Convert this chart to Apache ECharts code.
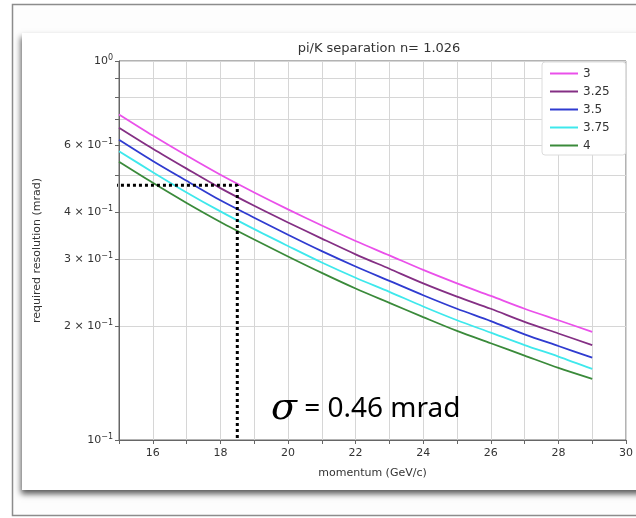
<!DOCTYPE html>
<html>
<head>
<meta charset="utf-8">
<script src="https://cdn.jsdelivr.net/npm/echarts@6/dist/echarts.min.js"></script>
<style>
  html, body { margin: 0; padding: 0; background: #fff; }
  #sepchart { width: 636px; height: 518px; }
</style>
</head>
<body>
<div id="sepchart"></div>
<script>
// momentum (GeV/c) and required resolution (mrad) per n-sigma curve
const momentum = [15, 16, 17, 18, 19, 20, 21, 22, 23, 24, 25, 26, 27, 28, 29];
const sigma300 = [0.723, 0.636, 0.563, 0.501, 0.450, 0.406, 0.368, 0.335, 0.307, 0.281, 0.259, 0.240, 0.222, 0.207, 0.193];
const sigma325 = [0.667, 0.587, 0.520, 0.462, 0.415, 0.375, 0.340, 0.309, 0.283, 0.259, 0.239, 0.222, 0.205, 0.191, 0.178];
const sigma350 = [0.620, 0.545, 0.483, 0.429, 0.386, 0.348, 0.315, 0.287, 0.263, 0.241, 0.222, 0.206, 0.190, 0.177, 0.165];
const sigma375 = [0.578, 0.509, 0.450, 0.401, 0.360, 0.325, 0.294, 0.268, 0.246, 0.225, 0.207, 0.192, 0.178, 0.166, 0.154];
const sigma400 = [0.542, 0.477, 0.422, 0.376, 0.338, 0.305, 0.276, 0.251, 0.230, 0.211, 0.194, 0.180, 0.167, 0.155, 0.145];
const curveNames = ["3", "3.25", "3.5", "3.75", "4"];
const curveColors = ["#ea50ea", "#842f84", "#2f3bd0", "#3ee8ec", "#3a8a3a"];

// axis ticks
const xLabelValues = [16, 18, 20, 22, 24, 26, 28, 30];
const yTickValues = [0.1, 0.2, 0.3, 0.4, 0.5, 0.6, 0.7, 0.8, 0.9, 1];
const yLabelValues = [0.1, 0.2, 0.3, 0.4, 0.6, 1];

// dotted read-off at p = 18.5 GeV/c
const markP = [14.88, 18.5, 18.5];
const markSigma = [0.47, 0.47, 0.1];

let chart = echarts.init(document.getElementById("sepchart"));

function toPairs(xs, ys) {
  return xs.map((x, i) => [x, ys[i]]);
}

function yLabel(v) {
  if (Math.abs(v - 1) < 1e-6) return "10{sup|0}";
  if (Math.abs(v - 0.1) < 1e-6) return "10{sup|\u22121}";
  return Math.round(v * 10) + " \u00d7 10{sup|\u22121}";
}

let curves = [sigma300, sigma325, sigma350, sigma375, sigma400];
let series = curves.map((vals, i) => ({
  name: curveNames[i],
  type: "line",
  data: toPairs(momentum, vals),
  smooth: 0.3,
  symbol: "none",
  lineStyle: { color: curveColors[i], width: 1.8 },
  itemStyle: { color: curveColors[i] },
  z: 3
}));

series.push({
  name: "marker",
  type: "line",
  data: toPairs(markP, markSigma),
  symbol: "none",
  clip: false,
  silent: true,
  lineStyle: { color: "#000", width: 3, type: [3, 3], cap: "butt" },
  z: 5
});

let option = {
  animation: false,
  backgroundColor: "#fff",
  textStyle: { fontFamily: "DejaVu Sans" },
  graphic: [
    {
      type: "rect",
      z: -10,
      shape: { x: 12.5, y: 4.5, width: 700, height: 511 },
      style: { fill: "#fdfdfd", stroke: "#8c8c8c", lineWidth: 1.5 }
    },
    {
      type: "rect",
      z: -9,
      shape: { x: 22, y: 33, width: 700, height: 457 },
      style: {
        fill: "#fff",
        shadowBlur: 6,
        shadowOffsetX: -1,
        shadowOffsetY: 4,
        shadowColor: "rgba(0,0,0,0.65)"
      }
    },
    {
      type: "text",
      left: 271,
      top: 390,
      z: 10,
      style: {
        text: "{s|\u03c3} = 0.46 mrad",
        fontFamily: "Noto Sans",
        fontSize: 28,
        fill: "#000",
        rich: {
          s: { fontFamily: "DejaVu Serif", fontStyle: "italic", fontSize: 38, fill: "#000" }
        }
      }
    }
  ],
  title: {
    text: "pi/K separation n= 1.026",
    left: 374,
    top: 37,
    textAlign: "center",
    textStyle: { fontSize: 13, fontWeight: "normal", color: "#333" }
  },
  legend: {
    data: curveNames,
    orient: "vertical",
    left: 542,
    top: 62,
    icon: "rect",
    itemWidth: 28,
    itemHeight: 2,
    itemGap: 5,
    padding: [5, 16, 3, 8],
    backgroundColor: "#fff",
    borderColor: "#dcdcdc",
    borderWidth: 1,
    borderRadius: 3,
    textStyle: { fontSize: 12, lineHeight: 13, color: "#333" }
  },
  grid: {
    left: 119,
    right: 7,
    top: 61,
    bottom: 78,
    show: true,
    borderColor: "#666",
    borderWidth: 1
  },
  xAxis: {
    type: "value",
    min: 15,
    max: 30,
    interval: 1,
    name: "momentum (GeV/c)",
    nameLocation: "middle",
    nameGap: 28,
    nameTextStyle: { fontSize: 11, color: "#333" },
    axisLine: { lineStyle: { color: "#666" } },
    axisTick: { length: 4, lineStyle: { color: "#666" } },
    axisLabel: {
      fontSize: 11,
      color: "#333",
      margin: 8,
      formatter: v => (xLabelValues.indexOf(v) >= 0 ? String(v) : "")
    },
    splitLine: { show: true, lineStyle: { color: "#d6d6d6" } }
  },
  yAxis: {
    type: "log",
    logBase: 10,
    min: 0.1,
    max: 1,
    name: "required resolution (mrad)",
    nameLocation: "middle",
    nameGap: 76,
    nameTextStyle: { fontSize: 11, color: "#333" },
    axisLine: { lineStyle: { color: "#666" } },
    axisTick: { length: 4, customValues: yTickValues, lineStyle: { color: "#666" } },
    axisLabel: {
      customValues: yLabelValues,
      fontSize: 11,
      color: "#333",
      margin: 6,
      formatter: yLabel,
      rich: {
        sup: { fontSize: 8, verticalAlign: "top", padding: [0, 0, 6, 0] }
      }
    },
    splitLine: { show: true, lineStyle: { color: "#d6d6d6" } }
  },
  series: series
};

chart.setOption(option);
</script>
</body>
</html>
